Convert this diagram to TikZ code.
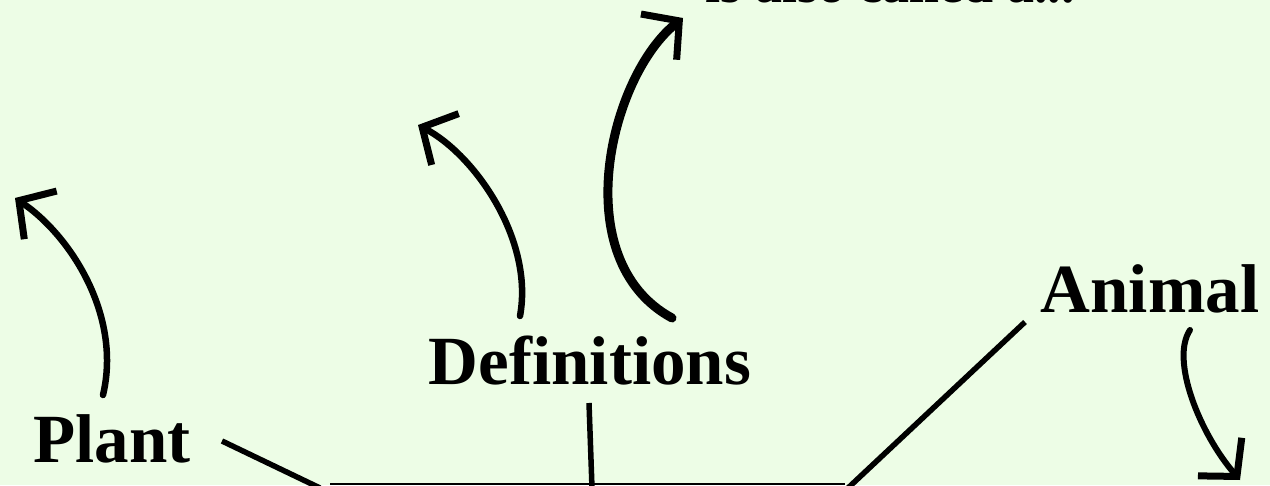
\documentclass[tikz,border=0pt]{standalone}
\usepackage{fontspec}
\setmainfont{Liberation Serif}
\usepackage{xcolor}
\usetikzlibrary{arrows.meta,calc}
\definecolor{bgmint}{RGB}{237,253,230}

\begin{document}
\begin{tikzpicture}[
  x=1pt, y=1pt,
  lbl/.style={font=\fontsize{69}{72}\selectfont\bfseries, inner sep=0pt, anchor=base},
  toplbl/.style={font=\fontsize{54}{60}\selectfont\bfseries, inner sep=0pt, anchor=base},
  link/.style={line width=5.5pt},
  arr/.style={line width=6.5pt, line cap=round,
              -{Straight Barb[length=26pt, width=58pt, line width=7pt]}}
]
\fill[bgmint] (0,0) rectangle (1270,485);
\useasboundingbox (0,0) rectangle (1270,485);
% labels
\node[lbl]    (plant) at (112,23)  {Plant};
\node[lbl]    (defs)  at (590,100) {Definitions};
\node[lbl]    (anim)  at (1150,172) {Animal};
\node[toplbl] (alias) at (890,482) {is also called a...};
% base of the lower box
\coordinate (baseL) at (330,1);
\coordinate (baseR) at (845,1);
\draw[line width=2.5pt] (baseL) -- (baseR);
% links to the box
\coordinate (plantE) at (222,44);
\coordinate (defsS)  at (589,82);
\coordinate (animW)  at (1025,163);
\draw[link] (plantE) -- (320,-3);
\draw[link] (defsS)  -- (592,-3);
\draw[link] (animW)  -- (848,-3);
% arrows
\coordinate (plantTip) at (15,287);
\coordinate (defsTipA) at (418,360);
\coordinate (defsTipB) at (683,467);
\coordinate (animTip)  at (1240,5);
\draw[arr] (103,90) .. controls (122,170) and (70,250) .. (plantTip);
\draw[arr] (520,169) .. controls (534,245) and (475,330) .. (defsTipA);
\draw[arr, line width=9pt] (672,167) .. controls (565,225) and (610,410) .. (defsTipB);
\draw[arr, line width=6pt] (1190,155) .. controls (1170,125) and (1200,51) .. (animTip);
\end{tikzpicture}
\end{document}
